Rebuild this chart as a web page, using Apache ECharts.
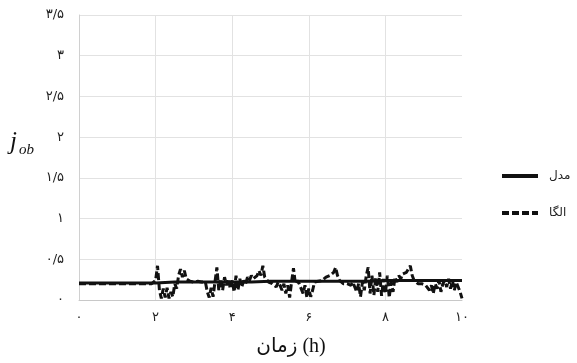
<!DOCTYPE html>
<html>
<head>
<meta charset="utf-8">
<script src="https://cdn.jsdelivr.net/npm/echarts@6/dist/echarts.min.js"></script>
<style>
html,body{margin:0;padding:0;background:#fff;}
#chart{width:577px;height:363px;}
</style>
</head>
<body>
<div id="chart"></div>
<script>
// ---- data ----
const seriesNames = ['مدل', 'الگا'];
const yTickLabels = ['۰', '۰/۵', '۱', '۱/۵', '۲', '۲/۵', '۳', '۳/۵'];
const xTickLabels = ['۰', '۲', '۴', '۶', '۸', '۱۰'];
const xTitle = 'زمان (h)';

const modelTimes = [0, 0.5, 1, 1.5, 2, 2.5, 3, 3.5, 4, 4.5, 5, 5.5, 6, 6.5, 7, 7.5, 8, 8.5, 9, 9.5, 10];
const modelValues = [0.21, 0.21, 0.21, 0.21, 0.21, 0.22, 0.22, 0.22, 0.22, 0.22, 0.23, 0.23, 0.23, 0.23, 0.23, 0.23, 0.24, 0.24, 0.24, 0.24, 0.24];

const algaTimes = [
  0.00, 0.05, 0.10, 0.15, 0.20, 0.25, 0.30, 0.35, 0.40, 0.45,
  0.50, 0.55, 0.60, 0.65, 0.70, 0.75, 0.80, 0.85, 0.90, 0.95,
  1.00, 1.05, 1.10, 1.15, 1.20, 1.25, 1.30, 1.35, 1.40, 1.45,
  1.50, 1.55, 1.60, 1.65, 1.70, 1.75, 1.80, 1.85, 1.90, 1.95,
  2.00, 2.05, 2.10, 2.15, 2.20, 2.25, 2.30, 2.35, 2.40, 2.45,
  2.50, 2.55, 2.60, 2.65, 2.70, 2.75, 2.80, 2.85, 2.90, 2.95,
  3.00, 3.05, 3.10, 3.15, 3.20, 3.25, 3.30, 3.35, 3.40, 3.45,
  3.50, 3.55, 3.60, 3.65, 3.70, 3.75, 3.80, 3.85, 3.90, 3.95,
  4.00, 4.05, 4.10, 4.15, 4.20, 4.25, 4.30, 4.35, 4.40, 4.45,
  4.50, 4.55, 4.60, 4.65, 4.70, 4.75, 4.80, 4.85, 4.90, 4.95,
  5.00, 5.05, 5.10, 5.15, 5.20, 5.25, 5.30, 5.35, 5.40, 5.45,
  5.50, 5.55, 5.60, 5.65, 5.70, 5.75, 5.80, 5.85, 5.90, 5.95,
  6.00, 6.05, 6.10, 6.15, 6.20, 6.25, 6.30, 6.35, 6.40, 6.45,
  6.50, 6.55, 6.60, 6.65, 6.70, 6.75, 6.80, 6.85, 6.90, 6.95,
  7.00, 7.05, 7.10, 7.15, 7.20, 7.25, 7.30, 7.35, 7.40, 7.45,
  7.50, 7.55, 7.60, 7.65, 7.70, 7.75, 7.80, 7.85, 7.90, 7.95,
  8.00, 8.05, 8.10, 8.15, 8.20, 8.25, 8.30, 8.35, 8.40, 8.45,
  8.50, 8.55, 8.60, 8.65, 8.70, 8.75, 8.80, 8.85, 8.90, 8.95,
  9.00, 9.05, 9.10, 9.15, 9.20, 9.25, 9.30, 9.35, 9.40, 9.45,
  9.50, 9.55, 9.60, 9.65, 9.70, 9.75, 9.80, 9.85, 9.90, 9.95,
  10.00
];
const algaValues = [
  0.20, 0.19, 0.20, 0.19, 0.20, 0.19, 0.20, 0.19, 0.20, 0.19,
  0.20, 0.19, 0.20, 0.19, 0.20, 0.19, 0.20, 0.19, 0.20, 0.19,
  0.20, 0.19, 0.20, 0.19, 0.20, 0.19, 0.20, 0.19, 0.20, 0.19,
  0.20, 0.19, 0.20, 0.19, 0.20, 0.19, 0.20, 0.19, 0.20, 0.21,
  0.24, 0.42, 0.12, 0.02, 0.14, 0.03, 0.15, 0.02, 0.10, 0.04,
  0.20, 0.14, 0.30, 0.38, 0.28, 0.36, 0.26, 0.28, 0.23, 0.21,
  0.22, 0.20, 0.23, 0.21, 0.22, 0.20, 0.22, 0.10, 0.03, 0.15,
  0.04, 0.22, 0.40, 0.12, 0.26, 0.12, 0.28, 0.18, 0.26, 0.14,
  0.24, 0.10, 0.30, 0.12, 0.26, 0.16, 0.24, 0.20, 0.28, 0.24,
  0.30, 0.26, 0.24, 0.30, 0.36, 0.30, 0.42, 0.28, 0.26, 0.22,
  0.24, 0.20, 0.22, 0.16, 0.22, 0.18, 0.12, 0.20, 0.08, 0.18,
  0.03, 0.22, 0.39, 0.20, 0.24, 0.20, 0.22, 0.08, 0.18, 0.03,
  0.14, 0.04, 0.12, 0.22, 0.20, 0.23, 0.21, 0.24, 0.22, 0.28,
  0.26, 0.30, 0.28, 0.34, 0.40, 0.30, 0.24, 0.22, 0.20, 0.22,
  0.20, 0.22, 0.18, 0.22, 0.16, 0.10, 0.20, 0.04, 0.22, 0.12,
  0.30, 0.40, 0.08, 0.30, 0.06, 0.28, 0.10, 0.34, 0.05, 0.26,
  0.08, 0.30, 0.03, 0.22, 0.10, 0.28, 0.22, 0.30, 0.26, 0.32,
  0.30, 0.34, 0.36, 0.42, 0.30, 0.24, 0.22, 0.20, 0.22, 0.20,
  0.22, 0.18, 0.20, 0.12, 0.18, 0.08, 0.20, 0.14, 0.24, 0.10,
  0.20, 0.24, 0.16, 0.26, 0.14, 0.24, 0.12, 0.22, 0.20, 0.10,
  0.02
];

// ---- chart ----
const chart = echarts.init(document.getElementById('chart'), null, {renderer: 'canvas'});
const digitFont = "'DejaVu Sans', sans-serif";
const pair = (ts, vs) => ts.map((t, i) => [t, vs[i]]);

chart.setOption({
  animation: false,
  backgroundColor: '#ffffff',
  grid: {left: 79, right: 115, top: 15, bottom: 63, containLabel: false},
  legend: {
    orient: 'vertical',
    left: 500,
    top: 170,
    padding: 0,
    itemWidth: 36,
    itemHeight: 12,
    itemGap: 25,
    itemStyle: {opacity: 0},
    lineStyle: {width: 4},
    textStyle: {fontSize: 12, color: '#222', fontFamily: digitFont, padding: [0, 0, 0, 6]},
    data: seriesNames
  },
  xAxis: {
    type: 'value',
    min: 0, max: 10, interval: 2,
    axisLine: {show: true, lineStyle: {color: '#c8c8c8', width: 1}},
    axisTick: {show: false},
    splitLine: {show: true, showMaxLine: false, lineStyle: {color: '#e2e2e2', width: 1}},
    axisLabel: {
      margin: 11, fontSize: 13, color: '#222', fontFamily: digitFont,
      formatter: (v) => xTickLabels[Math.round(v / 2)]
    }
  },
  yAxis: {
    type: 'value',
    min: 0, max: 3.5, interval: 0.5,
    axisLine: {show: true, lineStyle: {color: '#d0d0d0', width: 1}},
    axisTick: {show: false},
    splitLine: {show: true, lineStyle: {color: '#e2e2e2', width: 1}},
    axisLabel: {
      margin: 15, fontSize: 13, color: '#222', fontFamily: digitFont,
      formatter: (v) => yTickLabels[Math.round(v / 0.5)]
    }
  },
  graphic: [
    {type: 'text', left: 10, top: 130, style: {text: 'j', font: "italic 25px 'Liberation Serif', serif", fill: '#111'}},
    {type: 'text', left: 19, top: 143, style: {text: 'ob', font: "italic 15px 'Liberation Serif', serif", fill: '#111'}},
    {type: 'text', x: 291, y: 347, style: {text: xTitle, font: "20px 'Liberation Serif', 'DejaVu Sans', serif", fill: '#111', align: 'center', verticalAlign: 'middle'}}
  ],
  series: [
    {
      name: seriesNames[0],
      type: 'line',
      symbol: 'none',
      data: pair(modelTimes, modelValues),
      lineStyle: {color: '#111', width: 3},
      itemStyle: {color: '#111'},
      z: 2
    },
    {
      name: seriesNames[1],
      type: 'line',
      symbol: 'none',
      data: pair(algaTimes, algaValues),
      lineStyle: {color: '#111', width: 3, type: [7, 3]},
      itemStyle: {color: '#111'},
      z: 3
    }
  ]
});
</script>
</body>
</html>
